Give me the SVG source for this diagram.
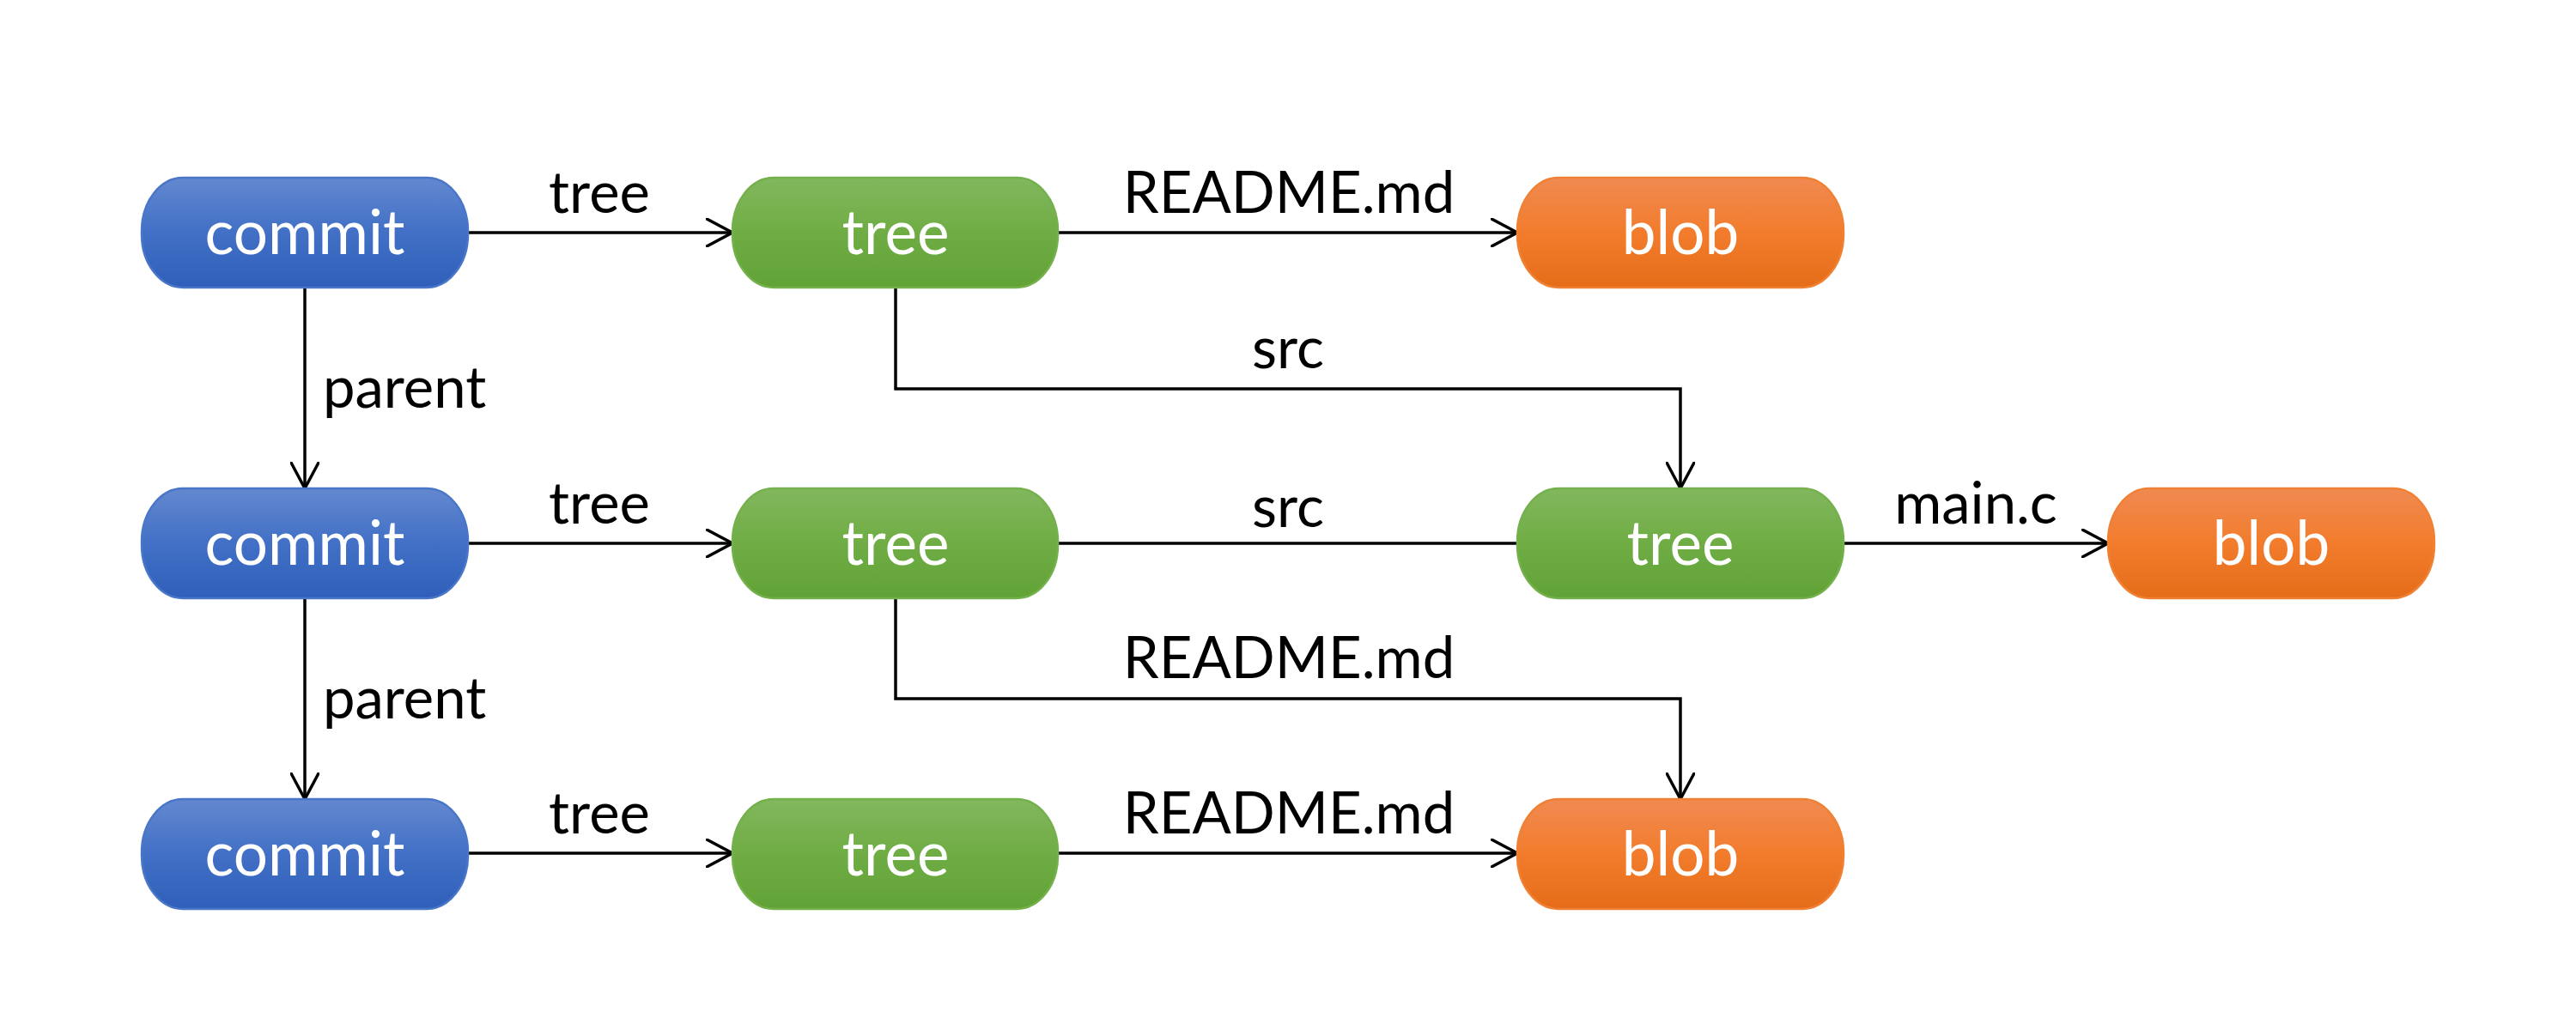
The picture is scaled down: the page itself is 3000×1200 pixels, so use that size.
<svg xmlns="http://www.w3.org/2000/svg" width="3000" height="1200" viewBox="0 0 3000 1200">
<defs>
<linearGradient id="gb" x1="0" y1="0" x2="0" y2="1"><stop offset="0" stop-color="#6388CF"/><stop offset="0.5" stop-color="#4270C6"/><stop offset="1" stop-color="#2F5FBA"/></linearGradient>
<linearGradient id="gg" x1="0" y1="0" x2="0" y2="1"><stop offset="0" stop-color="#82B75E"/><stop offset="0.5" stop-color="#6FAD44"/><stop offset="1" stop-color="#61A236"/></linearGradient>
<linearGradient id="go" x1="0" y1="0" x2="0" y2="1"><stop offset="0" stop-color="#F08A52"/><stop offset="0.5" stop-color="#F27C2C"/><stop offset="1" stop-color="#E56D19"/></linearGradient>
<marker id="arr" viewBox="0 0 32 34" refX="31" refY="17" markerWidth="32" markerHeight="34" markerUnits="userSpaceOnUse" orient="auto">
<path d="M1,1 L31,17 L1,33" fill="none" stroke="#000" stroke-width="3.5" stroke-linecap="round" stroke-linejoin="miter"/>
</marker>
<style>
.n rect{stroke-width:2.5}
.commit rect{fill:url(#gb);stroke:#4A76C8}
.tree rect{fill:url(#gg);stroke:#74B04C}
.blob rect{fill:url(#go);stroke:#F08033}
.n text{fill:#fff;font-family:Lato,"Open Sans","Noto Sans",sans-serif;font-size:71px;text-anchor:middle}
.lbl{fill:#000;font-family:Lato,"Open Sans","Noto Sans",sans-serif;font-size:67px}
.c{text-anchor:middle}
#connectors path{fill:none;stroke:#000;stroke-width:3.5}
</style>
</defs>
<rect width="3000" height="1200" fill="#fff"/>
<g id="connectors">
<path d="M545,271 H853" marker-end="url(#arr)"/>
<path d="M1232,271 H1767" marker-end="url(#arr)"/>
<path d="M1043,335 V453 H1957 V569" marker-end="url(#arr)"/>
<path d="M355,335 V569" marker-end="url(#arr)"/>
<path d="M545,633 H853" marker-end="url(#arr)"/>
<path d="M1232,633 H1767"/>
<path d="M2147,633 H2455" marker-end="url(#arr)"/>
<path d="M1043,697 V814 H1957 V931" marker-end="url(#arr)"/>
<path d="M355,697 V931" marker-end="url(#arr)"/>
<path d="M545,994 H853" marker-end="url(#arr)"/>
<path d="M1232,994 H1767" marker-end="url(#arr)"/>
<text class="lbl c" x="698" y="248">tree</text>
<text class="lbl c" x="1501" y="248">README.md</text>
<text class="lbl c" x="1500" y="429">src</text>
<text class="lbl" x="376" y="475">parent</text>
<text class="lbl c" x="698" y="610">tree</text>
<text class="lbl c" x="1500" y="614">src</text>
<text class="lbl c" x="2301" y="610">main.c</text>
<text class="lbl c" x="1501" y="790">README.md</text>
<text class="lbl" x="376" y="837">parent</text>
<text class="lbl c" x="698" y="971">tree</text>
<text class="lbl c" x="1501" y="971">README.md</text>
</g>
<g id="commit1" class="n commit"><rect x="165" y="207" width="380" height="128" rx="48" ry="62"/><text x="355" y="296">commit</text></g>
<g id="tree1" class="n tree"><rect x="853" y="207" width="379" height="128" rx="48" ry="62"/><text x="1043" y="296">tree</text></g>
<g id="blob1" class="n blob"><rect x="1767" y="207" width="380" height="128" rx="48" ry="62"/><text x="1957" y="296">blob</text></g>
<g id="commit2" class="n commit"><rect x="165" y="569" width="380" height="128" rx="48" ry="62"/><text x="355" y="658">commit</text></g>
<g id="tree2" class="n tree"><rect x="853" y="569" width="379" height="128" rx="48" ry="62"/><text x="1043" y="658">tree</text></g>
<g id="tree3" class="n tree"><rect x="1767" y="569" width="380" height="128" rx="48" ry="62"/><text x="1957" y="658">tree</text></g>
<g id="blob2" class="n blob"><rect x="2455" y="569" width="380" height="128" rx="48" ry="62"/><text x="2645" y="658">blob</text></g>
<g id="commit3" class="n commit"><rect x="165" y="931" width="380" height="128" rx="48" ry="62"/><text x="355" y="1020">commit</text></g>
<g id="tree4" class="n tree"><rect x="853" y="931" width="379" height="128" rx="48" ry="62"/><text x="1043" y="1020">tree</text></g>
<g id="blob3" class="n blob"><rect x="1767" y="931" width="380" height="128" rx="48" ry="62"/><text x="1957" y="1020">blob</text></g>
</svg>
